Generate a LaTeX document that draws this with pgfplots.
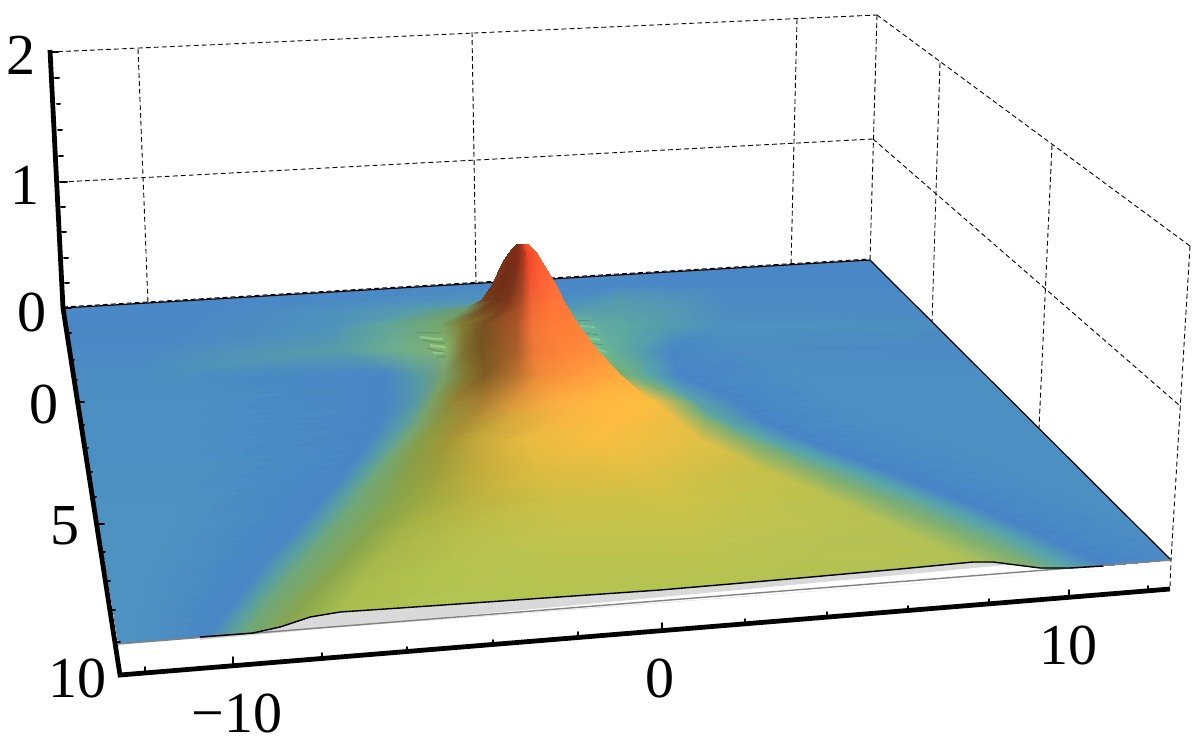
\documentclass[border=0pt]{standalone}
\usepackage{fontspec}
\setmainfont{Liberation Serif}
\usepackage{pgfplots}
\pgfplotsset{compat=1.18}

% everything in image pixels (origin top left)
\pgfplotsset{pix/.style={at={(0,0)},anchor=south west,width=598pt,height=373pt,scale only axis,
    xmin=0,xmax=1196,ymin=0,ymax=746,y dir=reverse,hide axis},
  grid line/.style={black,line width=0.45pt,dash pattern=on 2.4pt off 1.6pt},
  rgbsurf/.style={surf,shader=interp,mesh/cols=#1,mesh/color input=explicit mathparse,
    point meta={symbolic={\thisrow{r}/255,\thisrow{g}/255,\thisrow{b}/255}}}}

\begin{document}
\begin{tikzpicture}
\path[use as bounding box] (0,0) rectangle (598pt,373pt);

\begin{axis}[pix]
  % back and side walls
  \addplot[grid line] coordinates {(50,52)(877,15)};
  \addplot[grid line] coordinates {(61,182)(873,139)};
  \addplot[grid line] coordinates {(138,49)(148,303)};
  \addplot[grid line] coordinates {(472,32)(476,283)};
  \addplot[grid line] coordinates {(797,19)(791,265)};
  \addplot[grid line] coordinates {(877,15)(870,260)};
  \addplot[grid line] coordinates {(877,15)(1190,246)};
  \addplot[grid line] coordinates {(873,139)(1179,405)};
  \addplot[grid line] coordinates {(940,63)(932,322)};
  \addplot[grid line] coordinates {(1052,145)(1039,428)};
  \addplot[grid line] coordinates {(1190,246)(1171,560)(1170,589)};
  % grey side face under the front edge
  \addplot[fill={rgb,255:red,217;green,217;blue,217},draw=none] coordinates {
    (200,637)(253,633)(280,627)(310,617)(340,612)(400,608)(660,590)(800,578)(900,569)
    (973,562)(993,562)(1040,568)(1070,568)(1103,566)(1103,556)(200,640)(200,637)
    (1103,569.6)(118,644)} -- cycle;
  \clip (axis cs:63,308) -- (axis cs:870,260) -- (axis cs:1171,560) -- (axis cs:1103,566)
    -- (axis cs:1070,568) -- (axis cs:1040,568) -- (axis cs:993,562) -- (axis cs:973,562)
    -- (axis cs:900,569) -- (axis cs:800,578) -- (axis cs:660,590) -- (axis cs:400,608)
    -- (axis cs:340,612) -- (axis cs:310,617) -- (axis cs:280,627) -- (axis cs:253,633)
    -- (axis cs:200,637) -- (axis cs:118,644) -- cycle;
  % the surface, one scanline per image row
  \addplot[rgbsurf=16] table {
x y r g b
40 250 74 135 199
200 250 74 135 199
330 250 74 135 199
420 250 74 135 199
482 250 74 135 199
495 250 74 135 199
508 250 74 135 199
520 250 74 135 199
532 250 74 135 199
548 250 74 135 199
563 250 74 135 199
583 250 74 135 199
617 250 74 135 199
667 250 74 135 199
720 250 74 135 199
1500 250 74 135 199

40 285 74 136 199
200 285 74 136 199
330 285 74 136 199
420 285 74 136 199
482 285 74 136 199
495 285 74 136 199
508 285 74 136 199
520 285 74 136 199
532 285 74 136 199
548 285 74 136 199
563 285 74 136 199
583 285 74 136 199
617 285 74 136 199
667 285 74 136 199
720 285 74 136 199
1500 285 74 136 199

40 300 74 136 199
200 300 74 136 199
330 300 75 138 197
420 300 78 145 190
482 300 80 148 185
495 300 80 148 185
508 300 80 148 185
520 300 80 148 185
532 300 80 148 185
548 300 80 148 185
563 300 76 142 193
583 300 78 145 190
617 300 85 155 175
667 300 82 150 182
720 300 76 140 195
1500 300 74 136 199

40 310 74 136 199
200 310 74 136 199
340 310 78 145 190
420 310 88 158 170
465 310 110 155 105
483 310 110 155 105
503 310 110 155 105
518 310 110 155 105
533 310 110 155 105
551 310 110 155 105
569 310 85 155 175
590 310 88 158 170
625 310 88 158 170
670 310 85 153 178
730 310 76 140 195
1500 310 74 136 199

40 325 74 136 198
200 325 74 136 198
333 325 78 145 188
383 325 95 165 155
440 325 118 168 108
462 325 118 165 105
483 325 118 165 105
517 325 118 165 105
533 325 118 165 105
555 325 118 165 105
578 325 110 180 150
600 325 98 172 160
633 325 90 165 165
667 325 85 155 175
720 325 78 145 190
1500 325 74 136 199

40 350 75 138 197
150 350 75 138 197
333 350 85 155 170
400 350 112 175 140
447 350 135 175 110
465 350 135 175 110
482 350 135 175 110
517 350 135 175 110
535 350 135 175 110
565 350 135 175 110
597 350 115 190 140
612 350 100 175 150
640 350 85 158 172
670 350 72 135 197
730 350 76 140 195
1500 350 75 138 197

40 375 76 142 195
150 375 76 142 193
385 375 72 134 198
420 375 88 155 160
445 375 120 160 105
467 375 120 160 105
485 375 120 160 105
517 375 120 160 105
540 375 120 160 105
580 375 120 160 105
620 375 115 175 115
632 375 110 175 130
650 375 88 165 170
680 375 72 133 199
800 375 76 144 195
1500 375 76 144 195

40 400 76 143 195
200 400 76 143 195
388 400 72 134 198
420 400 90 155 160
435 400 125 160 90
455 400 150 130 52
485 400 168 125 50
517 400 220 150 60
550 400 250 170 65
600 400 255 185 65
650 400 250 190 65
683 400 130 175 120
695 400 88 160 172
735 400 72 133 199
840 400 76 144 195
1500 400 76 144 195

40 420 76 144 195
200 420 76 144 195
380 420 72 134 198
408 420 90 158 160
422 420 118 165 110
440 420 140 150 62
470 420 170 140 52
510 420 215 170 60
560 420 245 182 65
620 420 255 188 65
675 420 235 190 68
705 420 135 178 110
722 420 92 165 160
760 420 72 133 199
880 420 76 144 195
1500 420 76 144 195

40 440 76 144 195
200 440 76 144 195
369 440 72 134 198
392 440 90 160 160
405 440 115 168 118
420 440 135 158 72
450 440 165 150 55
483 440 200 170 60
525 440 232 186 65
600 440 248 190 65
700 440 225 192 70
745 440 130 175 115
770 440 88 165 170
805 440 72 133 199
940 440 76 144 195
1500 440 76 144 195

40 470 77 145 195
200 470 77 145 195
347 470 72 134 198
367 470 90 160 160
380 470 112 168 120
408 470 135 160 72
440 470 158 160 60
480 470 195 172 60
540 470 222 188 65
640 470 225 192 68
765 470 195 192 75
815 470 125 175 115
850 470 88 165 170
885 470 72 133 199
1010 470 76 144 195
1500 470 76 144 195

40 500 77 146 194
180 500 77 146 194
321 500 72 134 198
342 500 90 160 160
358 500 112 168 120
395 500 135 165 75
430 500 160 170 65
480 500 190 180 65
560 500 205 192 70
680 500 205 195 72
835 500 185 193 80
885 500 125 175 115
925 500 88 165 170
960 500 72 133 199
1080 500 76 144 195
1500 500 76 144 195

40 530 78 146 193
170 530 78 146 193
295 530 72 134 198
317 530 90 160 160
333 530 112 168 120
370 530 135 165 78
405 530 165 180 72
470 530 185 190 75
560 530 195 195 78
700 530 195 195 78
900 530 180 193 85
955 530 125 175 115
995 530 88 165 170
1030 530 72 133 199
1150 530 76 144 195
1500 530 76 144 195

40 565 78 146 193
150 565 78 146 193
260 565 72 134 198
285 565 90 160 160
302 565 112 168 120
340 565 135 165 78
375 565 168 185 75
450 565 180 195 80
560 565 185 195 80
700 565 185 195 80
980 565 175 193 88
1030 565 125 175 115
1065 565 88 165 170
1105 565 72 133 199
1229 565 76 144 195
1500 565 76 144 195

40 600 78 146 193
140 600 78 146 193
235 600 72 134 198
256 600 90 160 160
272 600 112 168 120
305 600 135 165 80
350 600 170 190 78
450 600 178 196 82
560 600 178 196 82
700 600 178 196 82
1063 600 175 193 88
1125 600 125 175 115
1157 600 88 165 170
1189 600 72 133 199
1309 600 76 144 195
1500 600 76 144 195

40 650 78 146 193
130 650 78 146 193
196 650 72 134 198
218 650 90 160 160
235 650 112 168 120
265 650 135 165 80
320 650 172 190 78
450 650 178 196 82
560 650 178 196 82
700 650 178 196 82
1178 650 175 193 88
1240 650 125 175 115
1272 650 88 165 170
1304 650 72 133 199
1424 650 76 144 195
1500 650 76 144 195
};
\end{axis}

\begin{axis}[pix]
  % ripples beside the peak
  \addplot[smooth,line width=1.1pt,draw={rgb,255:red,150;green,220;blue,135},opacity=.65] coordinates {(420,337)(443,339)(463,335)};
  \addplot[smooth,line width=1.2pt,draw={rgb,255:red,150;green,220;blue,135},opacity=.7] coordinates {(430,345)(447,347)(465,341)};
  \addplot[smooth,line width=1.1pt,draw={rgb,255:red,150;green,220;blue,135},opacity=.6] coordinates {(433,353)(450,352)(468,346)};
  \addplot[smooth,line width=.5pt,draw={rgb,255:red,80;green,115;blue,70},opacity=.45] coordinates {(417,332)(437,333)(460,330)(473,325)};
  \addplot[smooth,line width=.5pt,draw={rgb,255:red,80;green,115;blue,70},opacity=.5] coordinates {(422,340)(443,343)(463,338)(475,332)};
  \addplot[smooth,line width=.5pt,draw={rgb,255:red,80;green,115;blue,70},opacity=.5] coordinates {(427,348)(447,352)(467,343)(477,337)};
  \addplot[smooth,line width=.5pt,draw={rgb,255:red,80;green,115;blue,70},opacity=.45] coordinates {(437,357)(453,355)(470,348)(478,342)};
  \addplot[line width=1pt,draw={rgb,255:red,135;green,215;blue,150},opacity=.6] coordinates {(580,326)(595,327)};
  \addplot[line width=1pt,draw={rgb,255:red,135;green,215;blue,150},opacity=.6] coordinates {(587,338)(600,340)};
  \addplot[line width=1pt,draw={rgb,255:red,135;green,215;blue,150},opacity=.6] coordinates {(593,348)(607,352)};
  \addplot[line width=.5pt,draw={rgb,255:red,70;green,120;blue,110},opacity=.5] coordinates {(578,320)(590,320)};
  \addplot[line width=.5pt,draw={rgb,255:red,70;green,120;blue,110},opacity=.5] coordinates {(583,333)(598,335)};
  \addplot[line width=.5pt,draw={rgb,255:red,70;green,120;blue,110},opacity=.5] coordinates {(590,343)(603,345)};

  % edges of the surface
  \addplot[black,line width=.6pt] coordinates {(63,308)(870,260)(1171,560)};
  \addplot[black,line width=.5pt,dash pattern=on 2.4pt off 1.6pt] coordinates {(63,307)(870,259)};
  \addplot[color={rgb,255:red,130;green,130;blue,130},line width=.7pt] coordinates {(118,644)(1171,560)};
  \addplot[black,line width=.7pt] coordinates {(200,637)(253,633)(280,627)(310,617)(340,612)(400,608)(660,590)
    (800,578)(900,569)(973,562)(993,562)(1040,568)(1070,568)(1103,566)};

  % the peak, hard against the surface behind it
  \addplot[rgbsurf=7] table {
x y r g b
517 244 120 45 22
519 244 120 45 22
521 244 150 50 28
523 244 190 60 32
525 244 235 70 38
527 244 250 80 45
528 244 250 85 45

510 252 125 48 25
515 252 125 45 22
520 252 135 48 25
524 252 175 55 30
528 252 240 72 40
532 252 255 80 45
536 252 255 85 48

503 262 125 50 25
510 262 115 45 22
517 262 125 45 25
523 262 165 55 30
529 262 235 72 40
536 262 255 85 48
542 262 255 95 50

497 275 125 52 25
505 275 110 45 22
514 275 120 48 25
522 275 160 60 32
530 275 240 80 45
540 275 255 95 52
550 275 255 105 55

491 287 122 55 25
501 287 110 48 22
511 287 118 50 26
521 287 155 65 34
531 287 240 88 48
544 287 255 102 55
557 287 255 112 55

482 300 120 65 28
495 300 112 55 25
508 300 122 55 27
520 300 160 72 36
532 300 240 98 50
548 300 255 112 55
563 300 255 118 55

465 310 110 155 105
483 310 115 72 30
503 310 125 62 28
518 310 165 78 38
533 310 245 105 52
551 310 255 118 55
569 310 255 122 55

440 325 118 168 108
462 325 130 125 50
483 325 118 80 32
517 325 170 85 40
533 325 245 115 55
555 325 255 125 55
578 325 255 128 55

447 350 135 175 110
465 350 125 110 45
482 350 118 85 33
517 350 170 95 42
535 350 240 122 55
565 350 255 132 58
597 350 255 142 60

445 375 120 160 105
467 375 130 118 48
485 375 128 92 36
517 375 185 115 48
540 375 240 140 58
580 375 255 155 60
620 375 255 170 62

435 400 125 160 90
455 400 150 130 52
485 400 168 125 50
517 400 220 150 60
550 400 250 170 65
600 400 255 185 65
650 400 250 190 65
};

  % axis lines and ticks
  \addplot[black,line width=2.4pt] coordinates {(50,50)(63,308)(120,675)(1170,589)};
  \addplot[black,line width=1pt,line cap=round,unbounded coords=jump] table {
x y
50 52
58 52
nan nan
55 78
59 78
nan nan
57 104
60 104
nan nan
58 130
62 130
nan nan
59 156
63 156
nan nan
60 182
67 182
nan nan
61 207
65 207
nan nan
62 232
66 232
nan nan
64 258
68 258
nan nan
65 283
69 283
nan nan
63 308
71 308
nan nan
67 333
71 333
nan nan
70 360
74 360
nan nan
73 380
77 380
nan nan
76 402
84 402
nan nan
80 425
84 425
nan nan
84 448
88 448
nan nan
88 472
92 472
nan nan
92 497
96 497
nan nan
96 524
104 524
nan nan
100 552
105 552
nan nan
105 581
110 581
nan nan
110 610
115 610
nan nan
114 642
120 642
nan nan
145 672
145 667
nan nan
233 665
233 657
nan nan
322 658
322 653
nan nan
407 651
407 647
nan nan
493 644
493 640
nan nan
578 637
578 632
nan nan
662 630
662 623
nan nan
745 623
745 619
nan nan
827 616
827 612
nan nan
908 610
908 606
nan nan
989 603
989 599
nan nan
1069 597
1069 590
nan nan
1148 591
1148 586
};

  \begin{scope}[every node/.style={font=\fontsize{29}{30}\selectfont,inner sep=0pt}]
    \node at (axis cs:21,55) {2};
    \node at (axis cs:25,185) {1};
    \node at (axis cs:32,312) {0};
    \node at (axis cs:44,404) {0};
    \node at (axis cs:65,526) {5};
    \node at (axis cs:77,678) {10};
    \node at (axis cs:237,713) {−10};
    \node at (axis cs:660,678) {0};
    \node at (axis cs:1068,645) {10};
  \end{scope}
\end{axis}
\end{tikzpicture}
\end{document}
